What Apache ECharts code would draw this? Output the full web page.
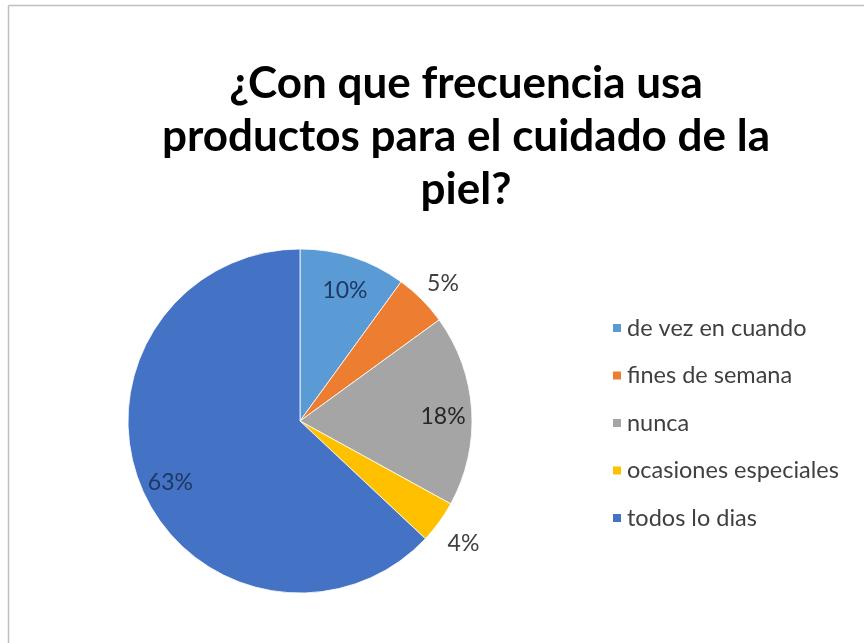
<!DOCTYPE html>
<html>
<head>
<meta charset="utf-8">
<script src="https://cdn.jsdelivr.net/npm/echarts@6/dist/echarts.min.js"></script>
<style>html,body{margin:0;padding:0;background:#fff}#c{width:864px;height:643px}</style>
</head>
<body>
<div id="c"></div>
<script>
const categories = ['de vez en cuando', 'fines de semana', 'nunca', 'ocasiones especiales', 'todos lo dias'];
const values = [10, 5, 18, 4, 63];
const colors = ['#5B9BD5', '#ED7D31', '#A5A5A5', '#FFC000', '#4472C4'];
const labelInside = [true, false, true, false, true];
const labelColors = ['#1F3864', '#404040', '#262626', '#404040', '#1F3864'];
const titleText = '¿Con que frecuencia usa\nproductos para el cuidado de la\npiel?';

const R = 172;
const center = [300, 421];
const labelCenter = [301, 426];
const chart = echarts.init(document.getElementById('c'));

const mainData = categories.map((n, i) => ({ name: n, value: values[i], itemStyle: { color: colors[i] } }));
function overlayData(inside) {
  return categories.map((n, i) => ({
    name: n, value: values[i],
    label: { show: labelInside[i] === inside, color: labelColors[i] }
  }));
}
const labelFmt = p => Math.round(p.percent) + '%';

chart.setOption({
  backgroundColor: '#fff',
  title: {
    text: titleText,
    left: 461, top: 52, textAlign: 'center',
    textStyle: { fontFamily: 'Lato', fontWeight: 'bold', fontSize: 44, lineHeight: 53, color: '#000' }
  },
  legend: {
    orient: 'vertical', left: 606, top: 311,
    itemWidth: 10, itemHeight: 10, itemGap: 23.5, icon: 'rect',
    data: categories,
    selectedMode: false,
    textStyle: { fontFamily: 'Lato', fontSize: 23.5, lineHeight: 22, color: '#404040', padding: [0, 0, 0, 0] }
  },
  graphic: [
    { type: 'line', shape: { x1: 8.5, y1: 5.5, x2: 864, y2: 5.5 }, style: { stroke: '#BFBFBF', lineWidth: 1.5 }, silent: true },
    { type: 'line', shape: { x1: 8.5, y1: 5.5, x2: 8.5, y2: 643 }, style: { stroke: '#BFBFBF', lineWidth: 1.5 }, silent: true }
  ],
  series: [
    {
      type: 'pie', name: 'main', center: center, radius: R, startAngle: 90, clockwise: true,
      avoidLabelOverlap: false, silent: true,
      itemStyle: { borderColor: '#fff', borderWidth: 0.8 },
      label: { show: false }, labelLine: { show: false },
      data: mainData
    },
    {
      type: 'pie', name: 'labIn', center: labelCenter, radius: [R * 0.62, R], startAngle: 90, clockwise: true,
      avoidLabelOverlap: false, silent: true,
      itemStyle: { color: 'rgba(0,0,0,0)' },
      label: { position: 'inside', formatter: labelFmt, fontFamily: 'Lato', fontSize: 23 },
      labelLine: { show: false },
      emphasis: { disabled: true },
      data: overlayData(true)
    },
    {
      type: 'pie', name: 'labOut', center: labelCenter, radius: [R, R * 1.3], startAngle: 90, clockwise: true,
      avoidLabelOverlap: false, silent: true,
      itemStyle: { color: 'rgba(0,0,0,0)' },
      label: { position: 'inside', formatter: labelFmt, fontFamily: 'Lato', fontSize: 23 },
      labelLine: { show: false },
      emphasis: { disabled: true },
      data: overlayData(false)
    }
  ]
});
</script>
</body>
</html>
